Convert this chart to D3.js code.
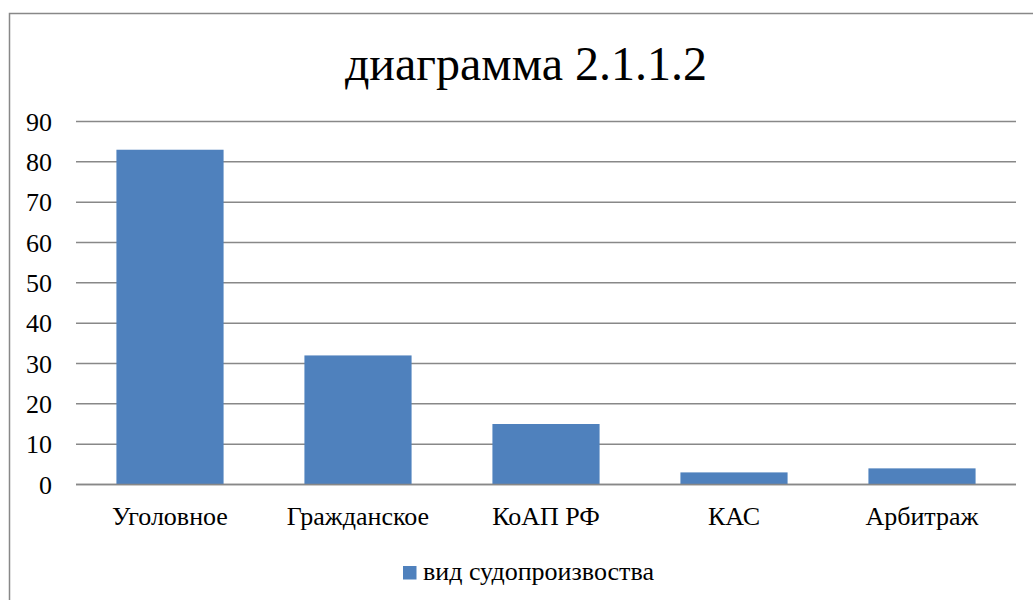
<!DOCTYPE html>
<html><head><meta charset="utf-8">
<script src="https://cdn.jsdelivr.net/npm/d3@7"></script>
</head><body style="margin:0">
<svg id="c" width="1033" height="600"></svg>
<script>
const title = "диаграмма 2.1.1.2";
const categories = ["Уголовное","Гражданское","КоАП РФ","КАС","Арбитраж"];
const values = [83,32,15,3,4];
const seriesName = "вид судопроизвоства";
const yTicks = [0,10,20,30,40,50,60,70,80,90];

const svg = d3.select("#c");
svg.append("rect").attr("x",9.5).attr("y",13.5).attr("width",1040).attr("height",600)
  .attr("fill","none").attr("stroke","#888").attr("stroke-width",1.5);

const x = d3.scaleBand().domain(categories).range([76,1016]).paddingInner(0.43).paddingOuter(0.215);
const y = d3.scaleLinear().domain([0,90]).range([484.5,121.5]);

svg.append("g").selectAll("line").data(yTicks).join("line")
  .attr("x1",76).attr("x2",1016).attr("y1",d=>y(d)).attr("y2",d=>y(d))
  .attr("stroke","#888").attr("stroke-width",1.5);

svg.append("g").selectAll("rect").data(values).join("rect")
  .attr("x",(d,i)=>x(categories[i])).attr("width",x.bandwidth())
  .attr("y",d=>y(d)).attr("height",d=>y(0)-y(d)).attr("fill","#4f81bd");

svg.append("line").attr("x1",76).attr("x2",1016).attr("y1",y(0)).attr("y2",y(0))
  .attr("stroke","#888").attr("stroke-width",1.5);

svg.append("g").selectAll("text").data(yTicks).join("text")
  .attr("x",52).attr("y",d=>y(d)+9).attr("text-anchor","end")
  .attr("font-size",26).attr("font-family","Liberation Serif").text(d=>d);

svg.append("g").selectAll("text").data(categories).join("text")
  .attr("x",d=>x(d)+x.bandwidth()/2).attr("y",525).attr("text-anchor","middle")
  .attr("font-size",26).attr("font-family","Liberation Serif").text(d=>d);

svg.append("text").attr("x",526).attr("y",80).attr("text-anchor","middle")
  .attr("font-size",48).attr("font-family","Liberation Serif").text(title);

svg.append("rect").attr("x",403).attr("y",566).attr("width",13.5).attr("height",13.5).attr("fill","#4f81bd");
svg.append("text").attr("x",423).attr("y",580).attr("font-size",26)
  .attr("font-family","Liberation Serif").text(seriesName);
</script>
</body></html>
